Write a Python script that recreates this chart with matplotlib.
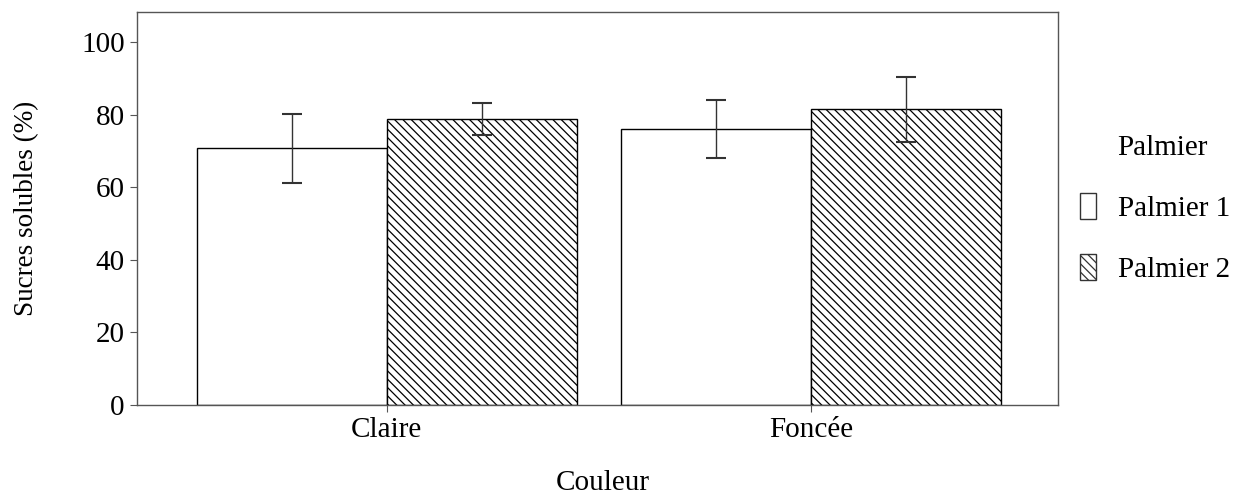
import numpy as np
import matplotlib.pyplot as plt
from matplotlib.patches import Patch

plt.rcParams['font.family'] = ['Liberation Serif', 'DejaVu Serif']
plt.rcParams['hatch.linewidth'] = 0.9

couleurs = ['Claire', 'Foncée']
palmier1 = [70.7, 76.0]
palmier1_err = [9.5, 8.0]
palmier2 = [78.8, 81.5]
palmier2_err = [4.5, 9.0]

x = np.arange(len(couleurs))
w = 0.448
fs = 21

fig = plt.figure(figsize=(12.42, 4.97), dpi=100)
ax = fig.add_axes([0.110, 0.185, 0.742, 0.791])

ax.bar(x - w / 2, palmier1, w, color='white', edgecolor='black', linewidth=1)
ax.bar(x + w / 2, palmier2, w, color='white', edgecolor='black', linewidth=1, hatch='\\\\\\\\')
ax.errorbar(x - w / 2, palmier1, yerr=palmier1_err, fmt='none', ecolor='#333333',
            elinewidth=1, capsize=7, capthick=1.5)
ax.errorbar(x + w / 2, palmier2, yerr=palmier2_err, fmt='none', ecolor='#333333',
            elinewidth=1, capsize=7, capthick=1.5)

ax.set_xlim(-0.59, 1.583)
ax.set_ylim(0, 108.3)
ax.set_yticks([0, 20, 40, 60, 80, 100])
ax.set_xticks(x)
ax.set_xticklabels(couleurs)
ax.tick_params(labelsize=fs, length=5, color='#555555')
for s in ax.spines.values():
    s.set_color('#555555')
    s.set_linewidth(1)

ax.set_ylabel('Sucres solubles (%)', fontsize=19.5, labelpad=30)
fig.text(0.485, 0.002, 'Couleur', fontsize=fs, ha='center', va='bottom')

handles = [Patch(facecolor='white', edgecolor='#333333', label='Palmier 1'),
           Patch(facecolor='white', edgecolor='#333333', hatch='\\\\\\\\', label='Palmier 2')]
leg = ax.legend(handles=handles, loc='center left',
                bbox_to_anchor=(1.024, 0.425), frameon=False, fontsize=fs,
                handlelength=0.55, handleheight=1.0, borderpad=0, borderaxespad=0,
                labelspacing=1.08, handletextpad=0.75)
fig.text(1117 / 1242, 1 - 148 / 497, 'Palmier', fontsize=fs, ha='left', va='center')

fig.savefig('out.png', dpi=100)
